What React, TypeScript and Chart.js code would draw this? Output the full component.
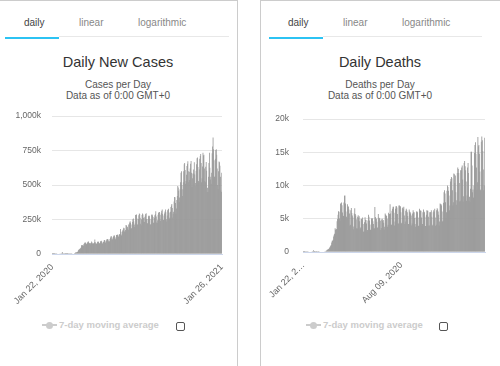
import React, { useEffect, useRef } from "react";
import { Chart, registerables } from "chart.js";
Chart.register(...registerables);

const FONT = '"Liberation Sans", Arial, sans-serif';

// Daily new cases, thousands (Jan 22, 2020 .. Jan 26, 2021), one row per week (Wed..Tue)
const casesK: number[] = [
  0.1, 0.2, 0.3, 0.5, 0.7, 0.8, 1.8,
  1.5, 2.0, 2.1, 2.6, 2.8, 3.2, 3.9,
  3.7, 3.2, 3.4, 2.7, 3.0, 2.5, 2.1,
  2.0, 15.1, 6.5, 2.6, 2.1, 2.1, 1.9,
  0.5, 0.6, 1.0, 0.7, 0.6, 0.6, 0.9,
  1.0, 1.2, 1.4, 1.9, 1.8, 2.0, 2.4,
  2.3, 2.7, 3.9, 3.9, 4.2, 4.0, 4.5,
  7.2, 7.6, 10.8, 10.9, 11.6, 13.8, 14.6,
  18.5, 26.4, 30, 32, 36, 39.5, 41,
  48, 63, 63, 63, 60, 60, 70,
  76, 81, 84, 82, 75, 70, 76,
  83, 88, 90, 82, 80, 72, 71,
  80, 82, 91, 83, 76, 72, 76,
  79, 85, 105, 86, 76, 73, 76,
  77, 87, 92, 87, 77, 77, 79,
  91, 92, 96, 90, 77, 77, 85,
  87, 97, 102, 98, 80, 88, 96,
  105, 107, 108, 105, 93, 89, 93,
  108, 118, 126, 128, 106, 103, 112,
  124, 128, 136, 132, 113, 107, 122,
  138, 137, 141, 138, 128, 123, 141,
  144, 141, 182, 162, 135, 142, 164,
  172, 180, 191, 186, 164, 163, 174,
  210, 207, 193, 197, 183, 174, 214,
  214, 229, 238, 226, 185, 186, 214,
  232, 252, 258, 237, 213, 196, 222,
  283, 285, 287, 257, 214, 212, 254,
  281, 293, 290, 263, 220, 208, 252,
  282, 294, 287, 262, 233, 232, 266,
  280, 290, 296, 253, 225, 221, 254,
  278, 268, 277, 256, 212, 215, 250,
  285, 287, 280, 269, 227, 227, 262,
  281, 289, 310, 272, 229, 225, 245,
  284, 298, 305, 304, 255, 240, 285,
  300, 313, 323, 290, 246, 247, 280,
  293, 308, 322, 303, 252, 235, 279,
  318, 322, 328, 301, 258, 265, 306,
  341, 352, 363, 334, 265, 291, 306,
  380, 414, 412, 370, 292, 330, 391,
  420, 493, 482, 459, 377, 409, 470,
  520, 590, 600, 500, 420, 470, 520,
  600, 650, 660, 610, 510, 530, 575,
  638, 655, 672, 600, 521, 536, 596,
  620, 655, 675, 590, 485, 550, 584,
  613, 583, 666, 576, 491, 514, 603,
  650, 695, 700, 630, 530, 520, 612,
  690, 710, 725, 660, 520, 550, 635,
  735, 715, 720, 620, 530, 520, 632,
  667, 603, 450, 480, 450, 560, 660,
  735, 625, 540, 560, 510, 590, 730,
  780, 845, 760, 680, 560, 560, 690,
  755, 760, 720, 620, 500, 470, 600,
  670, 665, 640, 560, 460, 450, 590,
];

// Daily deaths (Jan 22, 2020 .. Jan 26, 2021), one row per week (Wed..Tue)
const deaths: number[] = [
  9, 8, 16, 15, 24, 26, 26,
  38, 43, 46, 45, 57, 64, 66,
  73, 73, 86, 89, 97, 108, 97,
  254, 13, 143, 142, 106, 98, 139,
  115, 125, 111, 98, 150, 72, 64,
  60, 57, 65, 58, 64, 71, 73,
  84, 80, 102, 102, 104, 226, 194,
  325, 352, 448, 427, 563, 693, 785,
  953, 1050, 1420, 1690, 1710, 1860, 2350,
  2590, 2760, 3580, 3320, 3480, 3420, 4620,
  4970, 5600, 6140, 6060, 5030, 4700, 7280,
  6490, 7440, 7040, 5950, 5450, 5410, 7460,
  8450, 8500, 7300, 6080, 5310, 4980, 7180,
  6800, 6860, 6380, 5810, 3980, 4110, 6270,
  6620, 5880, 5480, 5200, 3440, 3850, 5800,
  6600, 5730, 5510, 4920, 3580, 3540, 5300,
  5530, 5170, 5380, 4620, 3420, 3670, 4980,
  5020, 4870, 5180, 4200, 3040, 3100, 4480,
  5240, 4840, 4800, 4300, 3080, 3300, 4740,
  5600, 5300, 4740, 4140, 3300, 3400, 5000,
  5100, 5030, 4620, 4200, 3510, 3560, 6770,
  5270, 5050, 5020, 4540, 3650, 3700, 5700,
  5200, 5100, 5000, 4700, 3300, 3600, 4900,
  5000, 4700, 4800, 4400, 3400, 3800, 5800,
  5600, 5500, 5400, 5000, 3800, 4100, 5900,
  5700, 5700, 7200, 5800, 4100, 4100, 6200,
  6500, 6800, 6800, 5900, 4000, 4600, 6500,
  6900, 6900, 6700, 5700, 4300, 4300, 7000,
  7000, 6800, 6900, 6000, 4300, 4400, 6600,
  6700, 6500, 6800, 5500, 4200, 4600, 6200,
  6500, 6300, 6000, 5400, 4200, 4200, 6400,
  6100, 6000, 5800, 5500, 4000, 4300, 5800,
  6300, 6000, 6000, 5100, 4200, 3800, 5200,
  6100, 6100, 6000, 5200, 3900, 4000, 6500,
  6300, 6200, 6200, 5200, 3900, 4200, 6000,
  6400, 6100, 6000, 5300, 3900, 3900, 5600,
  6300, 6200, 6200, 5300, 4000, 4000, 6000,
  6000, 6000, 6300, 5300, 3900, 4100, 6000,
  6300, 6100, 6500, 5200, 3900, 4100, 6300,
  6600, 6400, 6100, 5600, 4000, 4600, 7300,
  7200, 7200, 7000, 6100, 4600, 4700, 7400,
  9000, 9300, 8800, 7500, 5100, 6000, 9200,
  10000, 9800, 9200, 8500, 6300, 7000, 10600,
  11000, 11300, 11100, 9300, 7000, 7500, 11800,
  11700, 10400, 11500, 9000, 7100, 7800, 11900,
  12700, 12500, 11900, 10400, 7600, 7700, 12300,
  12300, 12700, 13000, 10900, 7600, 8400, 13400,
  13700, 12900, 12300, 10600, 7700, 8500, 12700,
  13400, 11900, 7700, 8300, 7500, 9500, 15100,
  15100, 13000, 9000, 9400, 8200, 10000, 14900,
  16100, 16500, 14800, 12700, 9400, 10500, 17300,
  15900, 16100, 14800, 12100, 9300, 9400, 16600,
  17400, 16800, 15200, 12400, 9300, 10000, 17200,
];

const casesYTicks = [0, 250, 500, 750, 1000];
const casesYLabels = ["0", "250k", "500k", "750k", "1,000k"];
const deathsYTicks = [0, 5000, 10000, 15000, 20000];
const deathsYLabels = ["0", "5k", "10k", "15k", "20k"];

const casesXTicks = ["Jan 22, 2020", "Jan 26, 2021"];
const casesXText = ["Jan 22, 2020", "Jan 26, 2021"];
const deathsXTicks = ["Jan 22, 2020", "Aug 09, 2020"];
const deathsXText = ["Jan 22, 2\u2026", "Aug 09, 2020"];

const tabLabels = ["daily", "linear", "logarithmic"];

const MONTHS = ["Jan", "Feb", "Mar", "Apr", "May", "Jun", "Jul", "Aug", "Sep", "Oct", "Nov", "Dec"];
const START = Date.UTC(2020, 0, 22);
const dayLabels = casesK.map((_, i) => {
  const d = new Date(START + i * 86400000);
  return `${MONTHS[d.getUTCMonth()]} ${String(d.getUTCDate()).padStart(2, "0")}, ${d.getUTCFullYear()}`;
});

type BarProps = {
  values: number[];
  yTicks: number[];
  yLabels: string[];
  xTicks: string[];
  xText: string[];
  width: number;
  height: number;
  yWidth: number;
  xHeight: number;
  padTop: number;
  padRight: number;
  yPad: number;
};

function BarChart(p: BarProps) {
  const ref = useRef<HTMLCanvasElement | null>(null);
  useEffect(() => {
    if (!ref.current) return;
    const ymax = p.yTicks[p.yTicks.length - 1];
    const step = p.yTicks[1] - p.yTicks[0];
    const chart = new Chart(ref.current, {
      type: "bar",
      data: {
        labels: dayLabels,
        datasets: [
          {
            data: p.values,
            backgroundColor: "#9a9a9a",
            borderWidth: 0,
            barPercentage: 1.8,
            categoryPercentage: 1,
          },
        ],
      },
      options: {
        responsive: false,
        animation: false,
        layout: { padding: { top: p.padTop, right: p.padRight, left: 0, bottom: 0 } },
        plugins: { legend: { display: false }, tooltip: { enabled: false }, title: { display: false } },
        scales: {
          x: {
            grid: { display: false },
            border: { display: true, color: "#ccd6eb", width: 1 },
            afterFit: (s: any) => {
              s.height = p.xHeight;
            },
            ticks: {
              autoSkip: false,
              minRotation: 45,
              maxRotation: 45,
              padding: 0,
              color: "#666",
              font: { family: FONT, size: 9 },
              callback: (v: any, i: number) => {
                const k = p.xTicks.indexOf(dayLabels[i]);
                return k >= 0 ? p.xText[k] : null;
              },
            },
          },
          y: {
            min: 0,
            max: ymax,
            grid: {
              drawTicks: false,
              color: (c: any) => (c.tick && c.tick.value === 0 ? "rgba(0,0,0,0)" : "#e6e6e6"),
            },
            border: { display: false },
            afterFit: (s: any) => {
              s.width = p.yWidth;
            },
            ticks: {
              stepSize: step,
              padding: p.yPad,
              color: "#666",
              font: { family: FONT, size: 8.5 },
              callback: (v: any) => {
                const k = p.yTicks.indexOf(Number(v));
                return k >= 0 ? p.yLabels[k] : "";
              },
            },
          },
        },
      },
    });
    return () => chart.destroy();
  }, []);
  return <canvas ref={ref} width={p.width} height={p.height} style={{ display: "block", width: p.width, height: p.height }} />;
}

const abs = (s: React.CSSProperties): React.CSSProperties => ({ position: "absolute", ...s });

function Panel(props: {
  left: number;
  width: number;
  title: string;
  sub: string;
  tabX: number[];
  underline: [number, number];
  grayLine: [number, number];
  legendX: number;
  boxX: number;
  chart: React.ReactNode;
  chartLeft: number;
}) {
  const { left, width } = props;
  return (
    <>
      {tabLabels.map((t, i) => (
        <div
          key={t}
          style={abs({
            left: props.tabX[i],
            top: 17,
            fontSize: 10,
            lineHeight: "12px",
            color: i === 0 ? "#444" : "#888",
            whiteSpace: "nowrap",
          })}
        >
          {t}
        </div>
      ))}
      <div style={abs({ left: props.grayLine[0], top: 36, width: props.grayLine[1] - props.grayLine[0], height: 1, background: "#e8e8e8" })} />
      <div style={abs({ left: props.underline[0], top: 37, width: props.underline[1] - props.underline[0], height: 2, background: "#2cc3f3" })} />
      <div style={abs({ left, top: 54, width, textAlign: "center", fontSize: 14.5, lineHeight: "17px", color: "#333", whiteSpace: "nowrap" })}>
        {props.title}
      </div>
      <div style={abs({ left, top: 79, width, textAlign: "center", fontSize: 10, lineHeight: "11px", color: "#555", whiteSpace: "nowrap" })}>
        {props.sub}
      </div>
      <div style={abs({ left, top: 90, width, textAlign: "center", fontSize: 10, lineHeight: "11px", color: "#555", whiteSpace: "nowrap" })}>
        Data as of 0:00 GMT+0
      </div>
      <div style={abs({ left: props.chartLeft, top: 100 })}>{props.chart}</div>
      <div style={abs({ left: props.legendX, top: 324, width: 15, height: 2, background: "#cccccc" })} />
      <div style={abs({ left: props.legendX + 4, top: 322, width: 7, height: 7, borderRadius: 4, background: "#cccccc" })} />
      <div
        style={abs({
          left: props.legendX + 17,
          top: 319,
          fontSize: 9.5,
          lineHeight: "12px",
          fontWeight: "bold",
          color: "#cccccc",
          whiteSpace: "nowrap",
        })}
      >
        7-day moving average
      </div>
      <div
        style={abs({
          left: props.boxX,
          top: 322,
          width: 9,
          height: 9,
          boxSizing: "border-box",
          border: "1px solid #555",
          borderRadius: 2,
          background: "#fff",
        })}
      />
    </>
  );
}

export default function App() {
  return (
    <div style={abs({ left: 0, top: 0, width: 500, height: 366, overflow: "hidden", background: "#fff", fontFamily: FONT })}>
      <div style={abs({ left: 0, top: 0, width: 238, height: 1, background: "#cccccc" })} />
      <div style={abs({ left: 237, top: 0, width: 1, height: 366, background: "#cccccc" })} />
      <div style={abs({ left: 260, top: 0, width: 240, height: 1, background: "#cccccc" })} />
      <div style={abs({ left: 260, top: 0, width: 1, height: 366, background: "#cccccc" })} />
      <Panel
        left={0}
        width={236}
        title="Daily New Cases"
        sub="Cases per Day"
        tabX={[24, 79, 138]}
        underline={[5, 59]}
        grayLine={[59, 229]}
        legendX={42}
        boxX={176}
        chartLeft={0}
        chart={
          <BarChart
            values={casesK}
            yTicks={casesYTicks}
            yLabels={casesYLabels}
            xTicks={casesXTicks}
            xText={casesXText}
            width={237}
            height={210}
            yWidth={52}
            xHeight={56}
            padTop={13}
            padRight={15}
            yPad={11}
          />
        }
      />
      <Panel
        left={260}
        width={240}
        title="Daily Deaths"
        sub="Deaths per Day"
        tabX={[288, 343, 402]}
        underline={[269, 323]}
        grayLine={[323, 482]}
        legendX={306}
        boxX={439}
        chartLeft={250}
        chart={
          <BarChart
            values={deaths}
            yTicks={deathsYTicks}
            yLabels={deathsYLabels}
            xTicks={deathsXTicks}
            xText={deathsXText}
            width={250}
            height={210}
            yWidth={53}
            xHeight={58}
            padTop={13}
            padRight={15}
            yPad={14}
          />
        }
      />
    </div>
  );
}
